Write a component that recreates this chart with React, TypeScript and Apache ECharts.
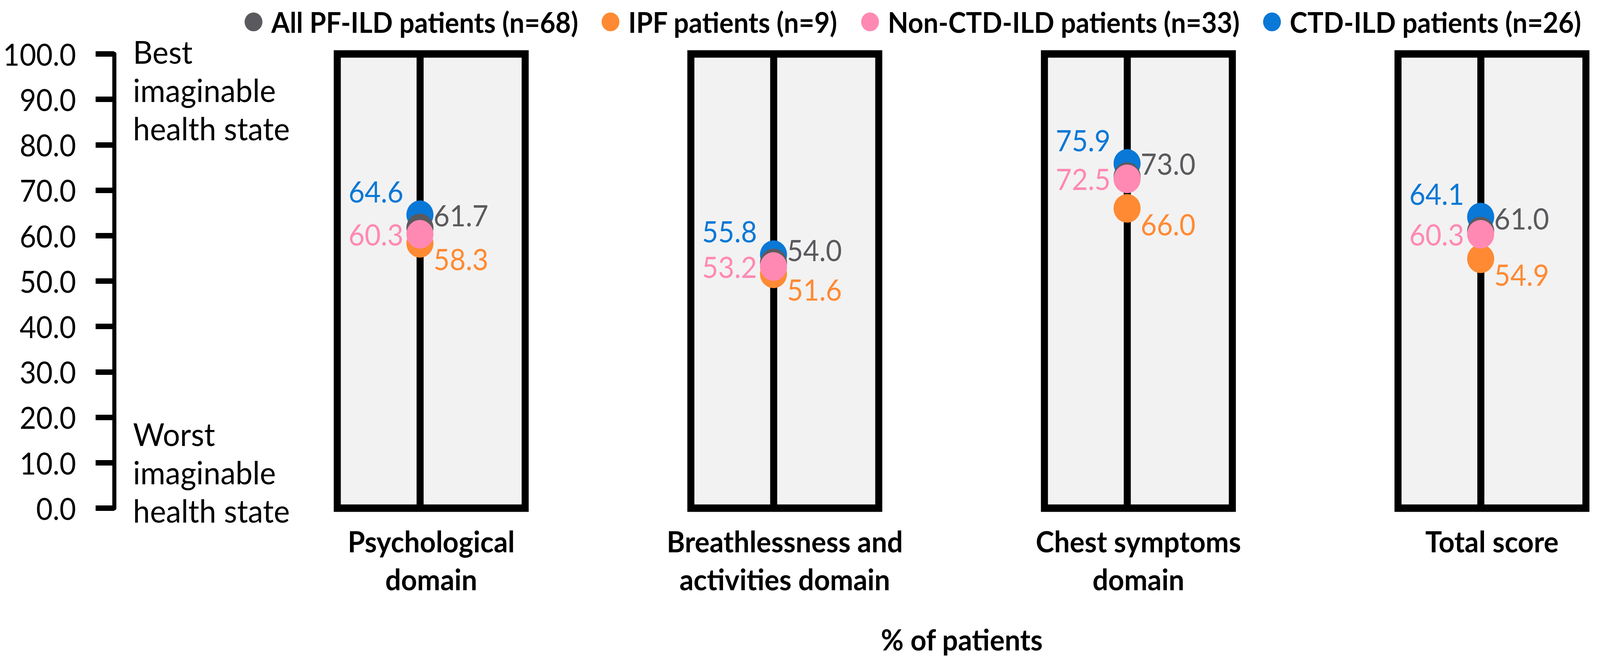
import React, { useEffect, useRef, useState } from "react";
import * as echarts from "echarts";

// ---- data ----
const domains = [
  "Psychological domain",
  "Breathlessness and activities domain",
  "Chest symptoms domain",
  "Total score",
];
const domainLabels = [
  "Psychological\ndomain",
  "Breathlessness and\nactivities domain",
  "Chest symptoms\ndomain",
  "Total score",
];
const groupNames = [
  "All PF-ILD patients (n=68)",
  "IPF patients (n=9)",
  "Non-CTD-ILD patients (n=33)",
  "CTD-ILD patients (n=26)",
];
const allPfIld = [61.7, 54.0, 73.0, 61.0];
const ipf = [58.3, 51.6, 66.0, 54.9];
const nonCtdIld = [60.3, 53.2, 72.5, 60.3];
const ctdIld = [64.6, 55.8, 75.9, 64.1];
const topNote = "Best\nimaginable\nhealth state";
const bottomNote = "Worst\nimaginable\nhealth state";
const xTitle = "% of patients";

// ---- styles / layout (design space 4317 x 1691) ----
const DESIGN_W = 4317;
const DESIGN_H = 1691;
const COLORS = {
  grey: "#5a5a5e",
  orange: "#ff8a33",
  pink: "#ff89b3",
  blue: "#0a78d6",
};
const FONT = "Lato";
const TOP = 138;
const HEIGHT = 1162;
const PANEL_W = 507;
const PANEL_LEFT0 = 910;
const STEP = 954;
const LINE_X0 = 1133;
const AXIS_X = 308;

export default function App() {
  const ref = useRef<HTMLDivElement>(null);
  const [scale, setScale] = useState<[number, number]>([
    (typeof window !== "undefined" ? window.innerWidth : DESIGN_W) / DESIGN_W,
    (typeof window !== "undefined" ? window.innerHeight : DESIGN_H) / DESIGN_H,
  ]);

  useEffect(() => {
    document.body.style.margin = "0";
    document.body.style.overflow = "hidden";
    setScale([window.innerWidth / DESIGN_W, window.innerHeight / DESIGN_H]);
  }, []);

  useEffect(() => {
    if (!ref.current) return;
    const chart = echarts.init(ref.current, undefined, {
      renderer: "svg",
      width: DESIGN_W,
      height: DESIGN_H,
    });

    const frameGrids = domains.map((_, i) => ({
      left: PANEL_LEFT0 + i * STEP,
      top: TOP,
      width: PANEL_W,
      height: HEIGHT,
      show: true,
      backgroundColor: "#f2f2f2",
      borderColor: "#000",
      borderWidth: 19,
    }));
    const dataGrid = {
      left: LINE_X0,
      top: TOP,
      width: STEP * (domains.length - 1),
      height: HEIGHT,
      show: false,
    };

    const frameX = domainLabels.map((lab, i) => ({
      type: "category",
      gridIndex: i,
      data: [lab],
      axisLine: { show: false },
      axisTick: { show: false },
      splitLine: { show: false },
      axisLabel: {
        show: true,
        interval: 0,
        margin: 36,
        fontFamily: FONT,
        fontWeight: "bold",
        fontSize: 75,
        lineHeight: 97,
        color: "#000",
        align: "center",
      },
    }));
    const frameY = domains.map((_, i) => ({
      type: "value",
      gridIndex: i,
      show: false,
      min: 0,
      max: 100,
    }));

    const labelBase = {
      show: true,
      fontFamily: FONT,
      fontSize: 75,
      lineHeight: 60,
      padding: 0,
      formatter: (p: any) => Number(p.value[1]).toFixed(1),
    };

    const mk = (name: string, vals: number[], color: string, label: any) => ({
      type: "scatter",
      name,
      xAxisIndex: 4,
      yAxisIndex: 4,
      symbol: "circle",
      symbolSize: 73,
      itemStyle: { color, opacity: 1 },
      data: vals.map((v, i) => [domains[i], v]),
      label: { ...labelBase, color, ...label },
      emphasis: { disabled: true },
    });

    const option: any = {
      animation: false,
      backgroundColor: "#fff",
      legend: {
        data: groupNames,
        left: 655,
        top: 15,
        icon: "circle",
        itemWidth: 48,
        itemHeight: 48,
        itemGap: 63,
        selectedMode: false,
        textStyle: {
          fontFamily: FONT,
          fontWeight: "bold",
          fontSize: 72,
          color: "#000",
          lineHeight: 48,
          padding: [0, 0, 0, 19],
        },
      },
      grid: [...frameGrids, dataGrid],
      xAxis: [
        ...frameX,
        {
          type: "category",
          gridIndex: 4,
          data: domains,
          boundaryGap: false,
          axisLine: { show: false },
          axisTick: { show: false },
          axisLabel: { show: false },
          splitLine: { show: true, lineStyle: { color: "#000", width: 19 } },
        },
      ],
      yAxis: [
        ...frameY,
        {
          type: "value",
          gridIndex: 4,
          min: 0,
          max: 100,
          interval: 10,
          position: "left",
          offset: LINE_X0 - AXIS_X,
          axisLine: { show: true, lineStyle: { color: "#000", width: 11 } },
          axisTick: {
            show: true,
            inside: false,
            length: 50,
            lineStyle: { color: "#000", width: 14 },
          },
          splitLine: { show: false },
          axisLabel: {
            margin: 103,
            fontFamily: FONT,
            fontSize: 77,
            color: "#000",
            formatter: (v: number) => v.toFixed(1),
          },
        },
      ],
      series: [
        mk(groupNames[3], ctdIld, COLORS.blue, {
          position: "left",
          distance: 8,
          offset: [0, -60],
        }),
        mk(groupNames[0], allPfIld, COLORS.grey, {
          position: "right",
          distance: 0,
          offset: [0, -33],
        }),
        mk(groupNames[1], ipf, COLORS.orange, {
          position: "right",
          distance: 0,
          offset: [0, 40],
        }),
        mk(groupNames[2], nonCtdIld, COLORS.pink, {
          position: "left",
          distance: 8,
          offset: [0, 0],
        }),
      ],
      graphic: [
        {
          type: "text",
          left: 359,
          top: 82,
          style: {
            text: topNote,
            fontFamily: FONT,
            fontSize: 82,
            lineHeight: 98,
            fill: "#000",
          },
        },
        {
          type: "text",
          left: 359,
          top: 1060,
          style: {
            text: bottomNote,
            fontFamily: FONT,
            fontSize: 82,
            lineHeight: 98,
            fill: "#000",
          },
        },
        {
          type: "text",
          x: 2595,
          y: 1635,
          style: {
            text: xTitle,
            fontFamily: FONT,
            fontWeight: "bold",
            fontSize: 75,
            fill: "#000",
            align: "center",
            verticalAlign: "middle",
          },
        },
      ],
    };

    chart.setOption(option);
    return () => chart.dispose();
  }, []);

  return (
    <div
      style={{
        width: "100vw",
        height: "100vh",
        overflow: "hidden",
        position: "relative",
        background: "#fff",
      }}
    >
      <div
        ref={ref}
        style={{
          position: "absolute",
          left: 0,
          top: 0,
          width: DESIGN_W,
          height: DESIGN_H,
          transformOrigin: "0 0",
          transform: `scale(${scale[0]}, ${scale[1]})`,
        }}
      />
    </div>
  );
}
